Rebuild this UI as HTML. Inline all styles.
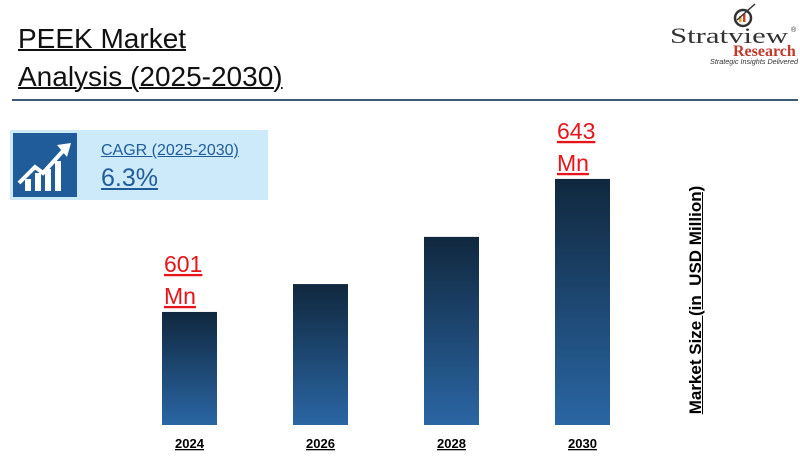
<!DOCTYPE html>
<html><head><meta charset="utf-8"><style>
body{margin:0;width:800px;height:461px;background:#fff;position:relative;overflow:hidden;font-family:"Liberation Sans",sans-serif}
.abs{position:absolute}
</style></head><body>
<div class="abs" style="left:18px;top:20px;font-size:28px;line-height:38px;color:#111;font-family:'Liberation Sans',sans-serif;text-decoration:underline;text-decoration-thickness:2px">PEEK Market<br>Analysis (2025-2030)</div>
<div class="abs" style="left:12px;top:99px;width:786px;height:2px;background:#3c5a78"></div>
<svg class="abs" style="left:660px;top:0" width="140" height="70">
 <circle cx="83" cy="18" r="8" fill="none" stroke="#333" stroke-width="2.5"/><rect x="79" y="16" width="2.5" height="6" fill="#e8a030"/><rect x="83" y="14" width="2.5" height="8" fill="#d04020"/><line x1="77" y1="20" x2="95" y2="4" stroke="#333" stroke-width="1.5"/>
 <text x="10" y="43" font-family="Liberation Serif" font-size="22" fill="#333" textLength="118" lengthAdjust="spacingAndGlyphs">Stratview</text><text x="131" y="32" font-size="7" fill="#333">®</text>
 <text x="73" y="56" font-family="Liberation Serif" font-weight="bold" font-size="16" fill="#c0392b">Research</text>
 <text x="50" y="64" font-style="italic" font-size="7" fill="#333" textLength="88" lengthAdjust="spacingAndGlyphs">Strategic Insights Delivered</text>
</svg>
<div class="abs" style="left:10px;top:130px;width:258px;height:70px;background:#cdeafa"></div>
<div class="abs" style="left:13px;top:133px;width:64px;height:64px;background:#1f5c99">
 <svg width="64" height="64"><g fill="#fff"><rect x="12" y="46" width="6" height="12"/><rect x="22" y="40" width="6" height="18"/><rect x="32" y="36" width="6" height="22"/><rect x="42" y="28" width="6" height="30"/></g><polyline points="6,50 22,34 30,40 50,18" fill="none" stroke="#fff" stroke-width="4"/><polygon points="44,12 58,10 54,24" fill="#fff"/></svg>
</div>
<div class="abs" style="left:101px;top:142px;font-size:16px;color:#1f5c99;text-decoration:underline">CAGR (2025-2030)</div>
<div class="abs" style="left:101px;top:164px;font-size:25px;color:#1f5c99;text-decoration:underline">6.3%</div>
<div class="abs" style="left:696px;top:300px;transform:translate(-50%,-50%) rotate(-90deg);white-space:nowrap;font-size:17px;font-weight:bold;text-decoration:underline;color:#000">Market Size (in&nbsp; USD Million)</div>
<svg id="chart" class="abs" style="left:0;top:0" width="800" height="461">
<defs><linearGradient id="g" x1="0" y1="0" x2="0" y2="1"><stop offset="0" stop-color="#10283e"/><stop offset="1" stop-color="#2a66a4"/></linearGradient></defs>
</svg>
<script>
const categories=["2024","2026","2028","2030"];
const values=[601,609.8,624.7,643];
const labels=["601\nMn","","","643\nMn"];
const svg=document.getElementById('chart');
const NS="http://www.w3.org/2000/svg";
const base=425, v0=565.3, k=3.167;
function y(v){return base-(v-v0)*k;}
function x(i){return 162+i*131;}
const bw=55;
categories.forEach((c,i)=>{
 const r=document.createElementNS(NS,'rect');
 r.setAttribute('x',x(i));r.setAttribute('y',y(values[i]));r.setAttribute('width',bw);r.setAttribute('height',base-y(values[i]));r.setAttribute('fill','url(#g)');
 
 
 svg.appendChild(r);
 const t=document.createElementNS(NS,'text');
 t.setAttribute('x',x(i)+bw/2);t.setAttribute('y',448);t.setAttribute('text-anchor','middle');t.setAttribute('font-size','13');t.setAttribute('font-weight','bold');t.setAttribute('text-decoration','underline');
 t.textContent=c;
 
 
 svg.appendChild(t);
 if(labels[i]){
  const parts=labels[i].split("\n");
  parts.forEach((p,j)=>{
   const l=document.createElementNS(NS,'text');
   l.setAttribute('x',x(i)+2);l.setAttribute('y',y(values[i])-40+j*32);l.setAttribute('font-size','23');l.setAttribute('fill','#e8141c');l.setAttribute('text-decoration','underline');
   l.textContent=p;
   
   
   svg.appendChild(l);
  });
 }
});
</script>
</body></html>
